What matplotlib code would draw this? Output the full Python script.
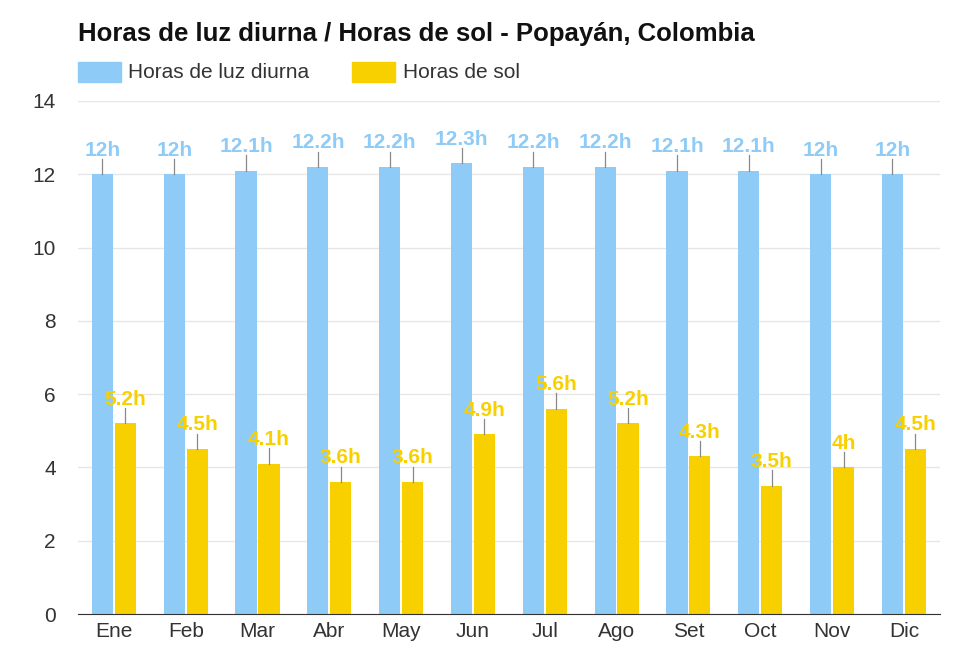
# Horas de luz diurna / Horas de sol - Popayán
import numpy as np
from matplotlib import pyplot as plt
from matplotlib.patches import Rectangle

plt.rcParams["font.family"] = ["Liberation Sans", "DejaVu Sans"]

meses = ["Ene", "Feb", "Mar", "Abr", "May", "Jun", "Jul", "Ago", "Set", "Oct", "Nov", "Dic"]
luz = [12, 12, 12.1, 12.2, 12.2, 12.3, 12.2, 12.2, 12.1, 12.1, 12, 12]
sol = [5.2, 4.5, 4.1, 3.6, 3.6, 4.9, 5.6, 5.2, 4.3, 3.5, 4, 4.5]

azul = "#8ecbf7"
amarillo = "#f8d000"

def etiqueta(v):
    return ("%g" % v) + "h"

fig = plt.figure(figsize=(9.57, 6.46), dpi=100)
ax = fig.add_axes([0.0815, 0.0495, 0.9005, 0.7942])

x = np.arange(len(meses))
w = 0.295
d = 0.012
ax.bar(x - w/2 - d, luz, width=w, color=azul, zorder=2)
ax.bar(x + w/2 + d, sol, width=w, color=amarillo, zorder=2)

# etiquetas con linea
for i in range(len(meses)):
    for xx, v, c in [(x[i] - w/2 - d, luz[i], azul), (x[i] + w/2 + d, sol[i], amarillo)]:
        ax.plot([xx, xx], [v, v + 0.42], color="#888888", lw=0.9, zorder=3)
        ax.text(xx, v + 0.40, etiqueta(v), ha="center", va="bottom", color=c,
                fontsize=15, fontweight="bold")

ax.set_xlim(-0.5, len(meses) - 0.5)
ax.set_ylim(0, 14)
ax.set_yticks(range(0, 15, 2))
ax.set_xticks(x)
ax.set_xticklabels(meses)
ax.grid(axis="y", color="#e6e6e6", lw=1, zorder=0)
for s in ["top", "right", "left"]:
    ax.spines[s].set_visible(False)
ax.spines["bottom"].set_color("#333333")
ax.tick_params(axis="both", length=0, labelsize=15, colors="#333333")
ax.tick_params(axis="x", pad=6)
ax.tick_params(axis="y", pad=16)

fig.text(0.0815, 0.948, "Horas de luz diurna / Horas de sol - Popayán, Colombia",
         fontsize=18.5, fontweight="bold", color="#111111", va="center")

# leyenda
fig.patches.append(Rectangle((78/957, 1 - 82/646), 43/957, 20/646, transform=fig.transFigure,
                             color=azul, figure=fig))
fig.text(128/957, 1 - 72/646, "Horas de luz diurna", fontsize=15, color="#333333", va="center")
fig.patches.append(Rectangle((352/957, 1 - 82/646), 43/957, 20/646, transform=fig.transFigure,
                             color=amarillo, figure=fig))
fig.text(403/957, 1 - 72/646, "Horas de sol", fontsize=15, color="#333333", va="center")

plt.savefig("out.png", dpi=100)
